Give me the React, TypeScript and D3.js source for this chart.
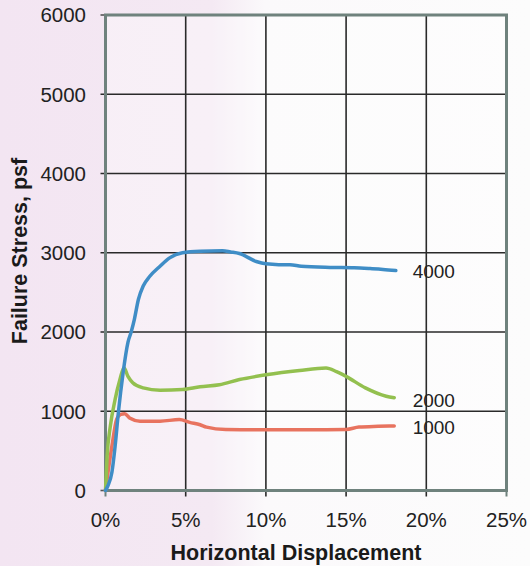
import React, { useEffect, useRef } from "react";
import * as d3 from "d3";

// Horizontal displacement (%) and failure stress (psf) for each normal stress
const disp4000 = [0, 0.15, 0.4, 0.6, 0.8, 1.1, 1.4, 1.6, 1.8, 2.05, 2.35, 2.75, 3.4, 4.0, 4.8, 5.9, 7.3, 7.8, 8.35, 9.4, 10.0, 10.8, 11.5, 12.2, 14, 15.5, 16.5, 17.3, 18.1];
const stress4000 = [0, 60, 230, 560, 980, 1490, 1870, 2000, 2160, 2410, 2580, 2700, 2830, 2935, 3000, 3020, 3025, 3010, 2990, 2890, 2860, 2850, 2850, 2830, 2815, 2810, 2800, 2790, 2775];

const disp2000 = [0, 0.1, 0.3, 0.6, 0.9, 1.15, 1.4, 1.7, 2.35, 3.4, 4.8, 5.9, 7.1, 8.35, 10.0, 12.1, 13.75, 14.4, 15.0, 16.2, 17.5, 18.0];
const stress2000 = [0, 430, 810, 1150, 1400, 1550, 1440, 1360, 1295, 1265, 1275, 1310, 1335, 1400, 1460, 1515, 1545, 1500, 1440, 1295, 1190, 1170];

const disp1000 = [0, 0.4, 0.7, 0.95, 1.2, 1.5, 2.15, 3.4, 4.6, 5.25, 5.9, 6.3, 7.5, 10, 12.5, 15, 15.8, 17, 18];
const stress1000 = [0, 560, 900, 960, 970, 915, 875, 875, 895, 860, 830, 800, 770, 765, 765, 770, 800, 810, 815];

const seriesNames = ["1000", "2000", "4000"];
const seriesColors = ["#e8735f", "#93c04f", "#3f8dc6"];
const labelStress = [800, 1140, 2760];
const xTicks = [0, 5, 10, 15, 20, 25];
const yTicks = [0, 1000, 2000, 3000, 4000, 5000, 6000];
const xTitle = "Horizontal Displacement";
const yTitle = "Failure Stress, psf";

export default function App() {
  const ref = useRef<SVGSVGElement>(null);

  useEffect(() => {
    const svg = d3.select(ref.current);
    svg.selectAll("*").remove();
    const W = 530, H = 566;
    const x = d3.scaleLinear().domain([0, 25]).range([105.5, 506.5]);
    const y = d3.scaleLinear().domain([0, 6000]).range([490.5, 15]);

    const defs = svg.append("defs");
    const grad = defs.append("linearGradient").attr("id", "bg").attr("x1", 0).attr("x2", 1).attr("y1", 0).attr("y2", 0);
    grad.append("stop").attr("offset", "0").attr("stop-color", "#f3e5f2");
    grad.append("stop").attr("offset", "0.40").attr("stop-color", "#f4e9f3");
    grad.append("stop").attr("offset", "0.50").attr("stop-color", "#fbf9fb");
    grad.append("stop").attr("offset", "1").attr("stop-color", "#fcfcfc");
    svg.append("rect").attr("width", W).attr("height", H).attr("fill", "url(#bg)");

    const font = "'Liberation Sans', Arial, sans-serif";

    svg.append("rect")
      .attr("x", x(0)).attr("y", y(6000))
      .attr("width", x(25) - x(0)).attr("height", y(0) - y(6000))
      .attr("fill", "#ffffff").attr("opacity", 0.35);

    // gridlines
    const g = svg.append("g");
    g.selectAll("line.h").data(yTicks.slice(1, -1)).join("line")
      .attr("x1", x(0) - 5).attr("x2", x(25))
      .attr("y1", d => y(d)).attr("y2", d => y(d))
      .attr("stroke", "#2a2a2a").attr("stroke-width", 1.6);
    g.selectAll("line.v").data(xTicks.slice(1, -1)).join("line")
      .attr("y1", y(6000)).attr("y2", y(0) + 6)
      .attr("x1", d => x(d)).attr("x2", d => x(d))
      .attr("stroke", "#2a2a2a").attr("stroke-width", 1.6);

    g.selectAll("line.ty").data([0, 6000]).join("line")
      .attr("x1", x(0) - 5).attr("x2", x(0))
      .attr("y1", d => y(d)).attr("y2", d => y(d))
      .attr("stroke", "#555").attr("stroke-width", 1.6);
    g.selectAll("line.tx").data([0, 25]).join("line")
      .attr("x1", d => x(d)).attr("x2", d => x(d))
      .attr("y1", y(0)).attr("y2", y(0) + 6)
      .attr("stroke", "#6f827d").attr("stroke-width", 2);

    // border
    svg.append("rect")
      .attr("x", x(0)).attr("y", y(6000))
      .attr("width", x(25) - x(0)).attr("height", y(0) - y(6000))
      .attr("fill", "none").attr("stroke", "#6f827d").attr("stroke-width", 3);

    // lines
    const dispArr = [disp1000, disp2000, disp4000];
    const stressArr = [stress1000, stress2000, stress4000];
    const line = d3.line<[number, number]>()
      .x(d => x(d[0])).y(d => y(d[1]))
      .curve(d3.curveMonotoneX);
    seriesNames.forEach((name, i) => {
      const pts = dispArr[i].map((d, j) => [d, stressArr[i][j]] as [number, number]);
      svg.append("path")
        .attr("d", line(pts))
        .attr("fill", "none")
        .attr("stroke", seriesColors[i])
        .attr("stroke-width", 3.5)
        .attr("stroke-linejoin", "round")
        .attr("stroke-linecap", "round");
    });

    // series labels
    seriesNames.forEach((name, i) => {
      svg.append("text")
        .attr("x", x(19.15))
        .attr("y", y(labelStress[i]))
        .attr("dy", "0.35em")
        .attr("font-family", font)
        .attr("font-size", 19)
        .attr("fill", "#222")
        .text(name);
    });

    // y tick labels
    svg.selectAll("text.yt").data(yTicks).join("text")
      .attr("x", 86).attr("y", d => y(d)).attr("dy", "0.36em")
      .attr("text-anchor", "end")
      .attr("font-family", font).attr("font-size", 20.5).attr("fill", "#222")
      .text(d => String(d));

    // x tick labels
    svg.selectAll("text.xt").data(xTicks).join("text")
      .attr("x", d => x(d)).attr("y", 527)
      .attr("text-anchor", "middle")
      .attr("font-family", font).attr("font-size", 20.5).attr("fill", "#222")
      .text(d => d + "%");

    // titles
    svg.append("text")
      .attr("x", 296).attr("y", 560)
      .attr("text-anchor", "middle")
      .attr("font-family", font).attr("font-size", 21.5).attr("font-weight", "bold").attr("fill", "#1a1a1a")
      .text(xTitle);
    svg.append("text")
      .attr("transform", "translate(27,251) rotate(-90)")
      .attr("text-anchor", "middle")
      .attr("font-family", font).attr("font-size", 21.5).attr("font-weight", "bold").attr("fill", "#1a1a1a")
      .text(yTitle);
  }, []);

  return (
    <svg
      ref={ref}
      width={530}
      height={566}
      style={{ position: "absolute", left: 0, top: 0, display: "block" }}
    />
  );
}
